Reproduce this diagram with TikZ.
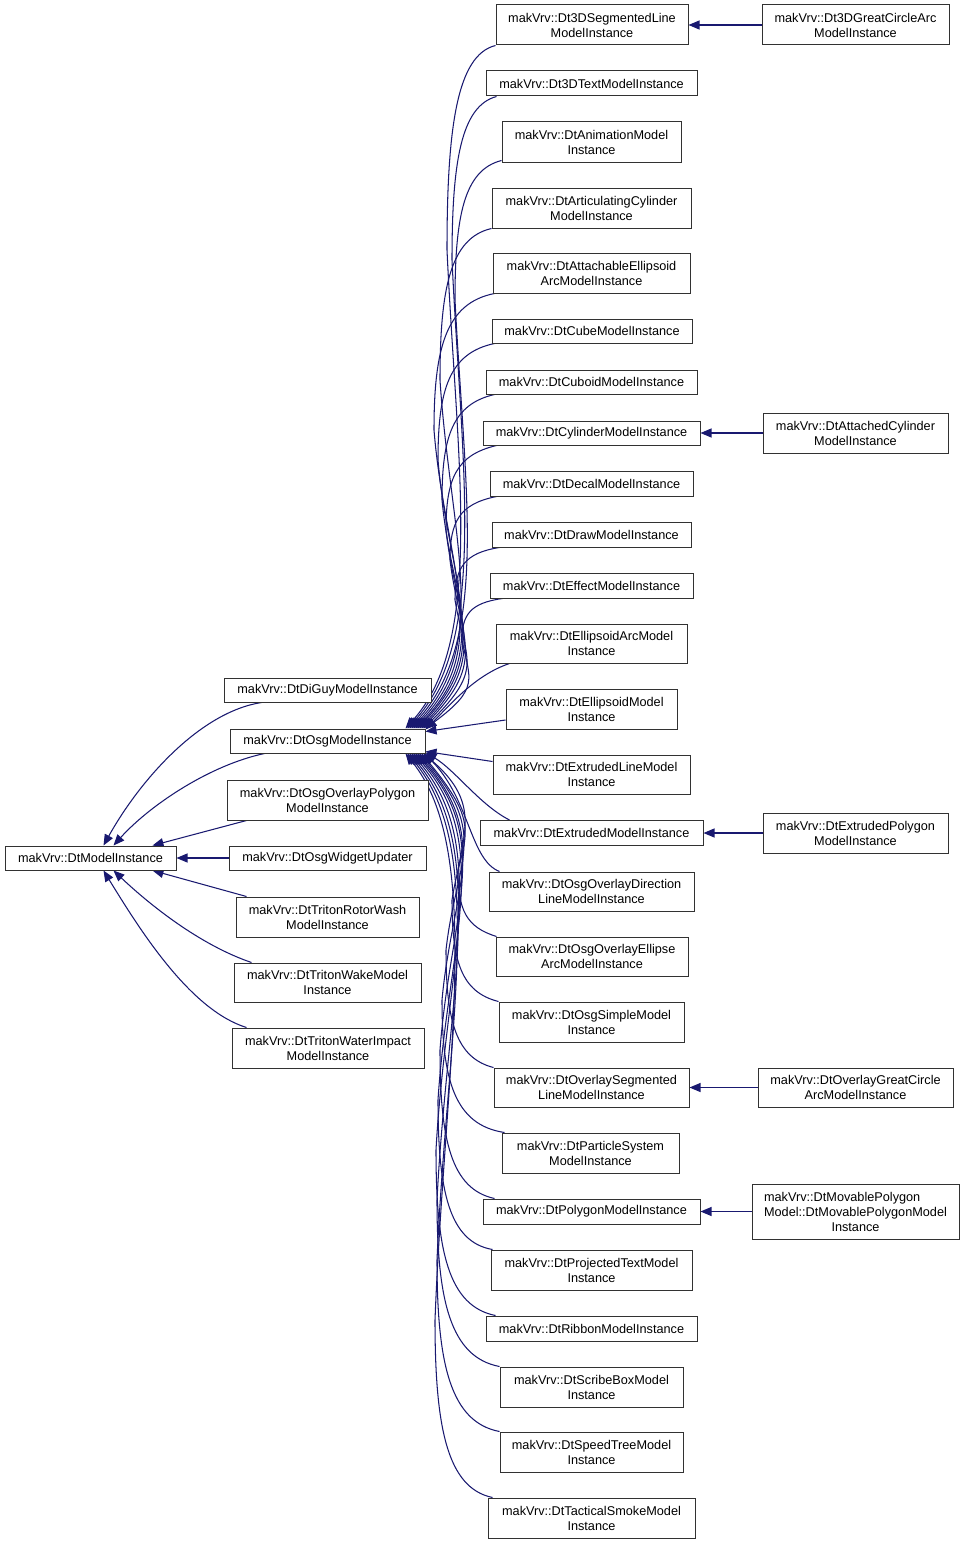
\documentclass[tikz,border=0pt]{standalone}
\usepackage{fontspec}
\setmainfont{Liberation Sans}
\usetikzlibrary{arrows.meta}
\pgfdeclarelayer{bg}
\pgfsetlayers{bg,main}
\definecolor{edgeblue}{RGB}{25,25,112}
\definecolor{boxline}{RGB}{50,50,50}
\newcommand\mybox[6]{\node[box,minimum width=#4,minimum height=#5] (#1) at (#2,-#3) {#6};}
\begin{document}
\begin{tikzpicture}[x=1pt,y=1pt,
  box/.style={draw=boxline, line width=1pt, fill=white, inner sep=0pt, align=center, font=\fontsize{12.7}{15}\selectfont},
  edge/.style={draw=edgeblue, line width=1.05pt, -{Triangle[length=11pt,width=9pt]}}]
\useasboundingbox (0,0) rectangle (965,-1544);

% left / middle
\mybox{base}{90.5}{858}{171}{24}{makVrv::DtModelInstance}
\mybox{diguy}{327.5}{690}{207}{24}{makVrv::DtDiGuyModelInstance}
\mybox{osg}{327.5}{741}{195}{24}{makVrv::DtOsgModelInstance}
\mybox{ovpoly}{327.5}{800}{201}{40}{makVrv::DtOsgOverlayPolygon\\ModelInstance}
\mybox{widget}{327.5}{858}{197}{24}{makVrv::DtOsgWidgetUpdater}
\mybox{rotor}{327.5}{917}{183}{40}{makVrv::DtTritonRotorWash\\ModelInstance}
\mybox{wake}{327.5}{982.5}{187}{39}{makVrv::DtTritonWakeModel\\Instance}
\mybox{water}{328}{1048}{192}{40}{makVrv::DtTritonWaterImpact\\ModelInstance}

% right-middle column
\mybox{seg}{592}{25}{192}{40}{makVrv::Dt3DSegmentedLine\\ModelInstance}
\mybox{txt}{591.5}{83.5}{211}{25}{makVrv::Dt3DTextModelInstance}
\mybox{anim}{591.5}{142}{179}{40}{makVrv::DtAnimationModel\\Instance}
\mybox{artic}{591.5}{208}{199}{40}{makVrv::DtArticulatingCylinder\\ModelInstance}
\mybox{attell}{591.5}{273}{197}{40}{makVrv::DtAttachableEllipsoid\\ArcModelInstance}
\mybox{cube}{592}{331}{200}{24}{makVrv::DtCubeModelInstance}
\mybox{cuboid}{591.5}{382}{211}{24}{makVrv::DtCuboidModelInstance}
\mybox{cyl}{591.5}{433}{217}{24}{makVrv::DtCylinderModelInstance}
\mybox{decal}{591.5}{483.5}{203}{25}{makVrv::DtDecalModelInstance}
\mybox{drw}{591.5}{534.5}{199}{25}{makVrv::DtDrawModelInstance}
\mybox{eff}{591.5}{585.5}{203}{25}{makVrv::DtEffectModelInstance}
\mybox{ellarc}{591.5}{643.5}{191}{39}{makVrv::DtEllipsoidArcModel\\Instance}
\mybox{ellmod}{591.5}{709}{171}{40}{makVrv::DtEllipsoidModel\\Instance}
\mybox{extline}{591.5}{774.5}{197}{39}{makVrv::DtExtrudedLineModel\\Instance}
\mybox{extr}{591.5}{833}{223}{25}{makVrv::DtExtrudedModelInstance}
\mybox{ovdir}{591.5}{891.5}{205}{39}{makVrv::DtOsgOverlayDirection\\LineModelInstance}
\mybox{ovell}{592}{956.5}{192}{39}{makVrv::DtOsgOverlayEllipse\\ArcModelInstance}
\mybox{simple}{591.5}{1022}{185}{40}{makVrv::DtOsgSimpleModel\\Instance}
\mybox{ovseg}{591.5}{1087.5}{195}{39}{makVrv::DtOverlaySegmented\\LineModelInstance}
\mybox{part}{590.5}{1153}{177}{40}{makVrv::DtParticleSystem\\ModelInstance}
\mybox{poly}{591.5}{1211.5}{217}{25}{makVrv::DtPolygonModelInstance}
\mybox{proj}{591.5}{1270}{201}{40}{makVrv::DtProjectedTextModel\\Instance}
\mybox{rib}{591.5}{1328.5}{211}{25}{makVrv::DtRibbonModelInstance}
\mybox{scribe}{591.5}{1387}{183}{40}{makVrv::DtScribeBoxModel\\Instance}
\mybox{speed}{591.5}{1452}{183}{40}{makVrv::DtSpeedTreeModel\\Instance}
\mybox{tac}{591.5}{1518}{207}{40}{makVrv::DtTacticalSmokeModel\\Instance}

% right column
\mybox{gca}{855.5}{25}{187}{40}{makVrv::Dt3DGreatCircleArc\\ModelInstance}
\mybox{attcyl}{855.5}{433}{185}{40}{makVrv::DtAttachedCylinder\\ModelInstance}
\mybox{extpoly}{855.5}{833}{185}{40}{makVrv::DtExtrudedPolygon\\ModelInstance}
\mybox{ovgc}{855.5}{1087.5}{195}{39}{makVrv::DtOverlayGreatCircle\\ArcModelInstance}
\mybox{movpoly}{855.5}{1211.5}{207}{55}{\rlap{makVrv::DtMovablePolygon}\phantom{Model::DtMovablePolygonModel}\\Model::DtMovablePolygonModel\\Instance}

\begin{pgfonlayer}{bg}
\fill[white] (0,0) rectangle (965,-1544);
% edges into DtModelInstance
\draw[edge] ([xshift=38]diguy.south west) .. controls (200,-712) and (140,-780) .. ([xshift=13]base.north);
\draw[edge] ([xshift=35]osg.south west) .. controls (210,-765) and (150,-805) .. ([xshift=23]base.north);
\draw[edge] ([xshift=20]ovpoly.south west) -- ([xshift=-24]base.north east);
\draw[edge] (widget.west) -- (base.east);
\draw[edge] ([xshift=11]rotor.north west) -- ([xshift=-24]base.south east);
\draw[edge] ([xshift=18]wake.north west) .. controls (200,-945) and (150,-905) .. ([xshift=23]base.south);
\draw[edge] ([xshift=15]water.north west) .. controls (190,-1010) and (140,-930) .. ([xshift=13]base.south);

% edges into DtOsgModelInstance (from above)
\draw[edge] (seg.south west) .. controls (457,-55) and (447,-127) .. (447,-250) .. controls (457,-465) and (485,-640) .. ([xshift=-20]osg.north east);
\draw[edge] ([xshift=11]txt.south west) .. controls (461,-106) and (452,-162) .. (452,-260) .. controls (462,-470) and (488,-640) .. ([xshift=-18]osg.north east);
\draw[edge] ([yshift=2]anim.south west) .. controls (464,-170) and (455,-216) .. (455,-300) .. controls (465,-495) and (490,-642) .. ([xshift=-16]osg.north east);
\draw[edge] (artic.south west) .. controls (450,-238) and (440,-289) .. (440,-380) .. controls (450,-535) and (492,-644) .. ([xshift=-14]osg.north east);
\draw[edge] ([xshift=2]attell.south west) .. controls (446,-303) and (434,-348) .. (434,-430) .. controls (445,-565) and (494,-645) .. ([xshift=-12]osg.north east);
\draw[edge] ([xshift=3]cube.south west) .. controls (449,-353) and (438,-390) .. (438,-460) .. controls (448,-580) and (494,-648) .. ([xshift=-10]osg.north east);
\draw[edge] ([xshift=9]cuboid.south west) .. controls (453,-404) and (442,-436) .. (442,-500) .. controls (452,-605) and (492,-650) .. ([xshift=-8]osg.north east);
\draw[edge] ([xshift=14]cyl.south west) .. controls (456,-455) and (446,-479) .. (446,-530) .. controls (456,-620) and (490,-655) .. ([xshift=-6]osg.north east);
\draw[edge] ([xshift=7]decal.south west) .. controls (459,-504) and (450,-522) .. (450,-560) .. controls (460,-640) and (488,-660) .. ([xshift=-4]osg.north east);
\draw[edge] ([xshift=8]drw.south west) .. controls (464,-553) and (455,-568) .. (455,-600) .. controls (465,-660) and (485,-668) .. ([xshift=-2]osg.north east);
\draw[edge] ([xshift=13]eff.south west) .. controls (470,-603) and (462,-615) .. (462,-640) .. controls (470,-680) and (480,-688) .. (osg.north east);
\draw[edge] ([xshift=14]ellarc.south west) .. controls (475,-675) and (450,-705) .. ([yshift=-1]osg.north east);
\draw[edge] ([yshift=-11]ellmod.west) -- ([yshift=-3]osg.north east);

% edges into DtOsgModelInstance (from below)
\draw[edge] ([yshift=13]extline.west) -- ([yshift=2]osg.south east);
\draw[edge] ([xshift=30]extr.north west) .. controls (480,-805) and (455,-770) .. ([yshift=1]osg.south east);
\draw[edge] ([xshift=11]ovdir.north west) .. controls (470,-860) and (470,-800) .. ([xshift=-1]osg.south east);
\draw[edge] ([xshift=1]ovell.north west) .. controls (466,-927) and (458,-910) .. (458,-870) .. controls (465,-830) and (478,-800) .. ([xshift=-2]osg.south east);
\draw[edge] (simple.north west) .. controls (461,-992) and (452,-961) .. (452,-900) .. controls (462,-835) and (485,-830) .. ([xshift=-4]osg.south east);
\draw[edge] (ovseg.north west) .. controls (456,-1058) and (446,-1021) .. (446,-950) .. controls (456,-860) and (490,-835) .. ([xshift=-6]osg.south east);
\draw[edge] ([xshift=3]part.north west) .. controls (455,-1125) and (442,-1081) .. (442,-1000) .. controls (452,-890) and (492,-838) .. ([xshift=-8]osg.south east);
\draw[edge] ([xshift=12]poly.north west) .. controls (451,-1189) and (440,-1140) .. (440,-1050) .. controls (450,-915) and (494,-840) .. ([xshift=-10]osg.south east);
\draw[edge] ([xshift=2]proj.north west) .. controls (449,-1242) and (438,-1191) .. (438,-1100) .. controls (448,-945) and (494,-842) .. ([xshift=-12]osg.south east);
\draw[edge] ([xshift=10]rib.north west) .. controls (448,-1306) and (436,-1250) .. (436,-1150) .. controls (446,-970) and (492,-845) .. ([xshift=-14]osg.south east);
\draw[edge] (scribe.north west) .. controls (450,-1357) and (437,-1300) .. (437,-1200) .. controls (447,-1000) and (490,-848) .. ([xshift=-16]osg.south east);
\draw[edge] (speed.north west) .. controls (450,-1422) and (437,-1363) .. (437,-1260) .. controls (447,-1030) and (488,-850) .. ([xshift=-18]osg.south east);
\draw[edge] ([xshift=5]tac.north west) .. controls (447,-1488) and (435,-1427) .. (435,-1320) .. controls (445,-1065) and (485,-852) .. ([xshift=-20]osg.south east);

% right column edges
\draw[edge] (gca.west) -- (seg.east);
\draw[edge] (attcyl.west) -- (cyl.east);
\draw[edge] (extpoly.west) -- (extr.east);
\draw[edge] (ovgc.west) -- (ovseg.east);
\draw[edge] (movpoly.west) -- (poly.east);
\end{pgfonlayer}
\end{tikzpicture}
\end{document}
